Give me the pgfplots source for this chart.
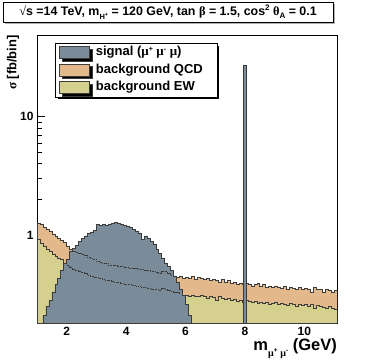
\documentclass[border=0pt]{standalone}
\usepackage{fontspec}
\setmainfont{Liberation Sans}
\newfontfamily\symb{Liberation Serif}
\usepackage{pgfplots}
\usepackage{pgfplotstable}
\pgfplotsset{compat=1.18}
\usetikzlibrary{shadows}
\definecolor{sigcol}{HTML}{7A8C99}
\definecolor{qcdcol}{HTML}{E3B98B}
\definecolor{ewcol}{HTML}{D5D08D}
\definecolor{edge}{HTML}{3C3C3C}

% background histograms, bin width 0.1 (left edges)
\pgfplotstableread{
x qcd ew
1.0 1.26 0.92
1.1 1.22 0.85
1.2 1.15 0.80
1.3 1.12 0.76
1.4 1.08 0.72
1.5 1.02 0.69
1.6 0.98 0.66
1.7 0.93 0.64
1.8 0.90 0.62
1.9 0.86 0.58
2.0 0.80 0.55
2.1 0.76 0.53
2.2 0.73 0.51
2.3 0.71 0.50
2.4 0.70 0.49
2.5 0.68 0.48
2.6 0.67 0.47
2.7 0.65 0.46
2.8 0.63 0.45
2.9 0.62 0.44
3.0 0.60 0.435
3.1 0.59 0.43
3.2 0.58 0.42
3.3 0.57 0.415
3.4 0.555 0.41
3.5 0.555 0.405
3.6 0.55 0.40
3.7 0.545 0.395
3.8 0.54 0.39
3.9 0.535 0.385
4.0 0.53 0.38
4.1 0.52 0.38
4.2 0.525 0.375
4.3 0.52 0.37
4.4 0.515 0.365
4.5 0.51 0.36
4.6 0.50 0.36
4.7 0.50 0.355
4.8 0.49 0.35
4.9 0.49 0.345
5.0 0.48 0.345
5.1 0.475 0.34
5.2 0.49 0.355
5.3 0.49 0.35
5.4 0.47 0.34
5.5 0.46 0.335
5.6 0.45 0.33
5.7 0.44 0.325
5.8 0.45 0.32
5.9 0.43 0.31
6.0 0.44 0.31
6.1 0.43 0.30
6.2 0.45 0.31
6.3 0.42 0.305
6.4 0.44 0.30
6.5 0.43 0.31
6.6 0.42 0.30
6.7 0.43 0.29
6.8 0.41 0.30
6.9 0.42 0.295
7.0 0.41 0.28
7.1 0.40 0.30
7.2 0.42 0.29
7.3 0.40 0.285
7.4 0.41 0.29
7.5 0.39 0.28
7.6 0.40 0.285
7.7 0.38 0.275
7.8 0.39 0.28
7.9 0.38 0.27
8.0 0.39 0.28
8.1 0.385 0.275
8.2 0.37 0.27
8.3 0.38 0.275
8.4 0.39 0.265
8.5 0.37 0.27
8.6 0.38 0.265
8.7 0.36 0.27
8.8 0.37 0.26
8.9 0.36 0.265
9.0 0.37 0.27
9.1 0.36 0.26
9.2 0.355 0.265
9.3 0.365 0.26
9.4 0.35 0.255
9.5 0.36 0.265
9.6 0.355 0.26
9.7 0.35 0.25
9.8 0.36 0.26
9.9 0.345 0.255
10.0 0.355 0.26
10.1 0.35 0.25
10.2 0.33 0.26
10.3 0.36 0.24
10.4 0.345 0.255
10.5 0.35 0.25
10.6 0.33 0.245
10.7 0.35 0.24
10.8 0.34 0.25
10.9 0.33 0.24
11.0 0.34 0.235
11.1 0.34 0.235
}\bkg

% signal (mu+ mu- mu) continuum
\pgfplotstableread{
x s
1.2 0.21
1.3 0.25
1.4 0.28
1.5 0.33
1.6 0.38
1.7 0.43
1.8 0.50
1.9 0.57
2.0 0.62
2.1 0.72
2.2 0.77
2.3 0.82
2.4 0.88
2.5 0.93
2.6 0.98
2.7 1.03
2.8 1.06
2.9 1.10
3.0 1.22
3.1 1.20
3.2 1.23
3.3 1.21
3.4 1.24
3.5 1.26
3.6 1.27
3.7 1.25
3.8 1.24
3.9 1.21
4.0 1.19
4.1 1.16
4.2 1.12
4.3 1.08
4.4 1.04
4.5 0.92
4.6 0.98
4.7 0.93
4.8 0.88
4.9 0.84
5.0 0.76
5.1 0.70
5.2 0.64
5.3 0.58
5.4 0.54
5.5 0.50
5.6 0.45
5.7 0.40
5.8 0.35
5.9 0.31
6.0 0.26
6.1 0.21
6.2 0.21
}\sig

\begin{document}
\begin{tikzpicture}
\useasboundingbox (0pt,0pt) rectangle (374pt,359pt);

% title box
\fill[gray!60] (5pt,335pt) rectangle (335pt,355pt);
\draw[line width=0.8pt, fill=white] (3pt,337pt) rectangle (333pt,357pt);
\node[font=\bfseries\fontsize{12.4}{12.4}\selectfont, inner sep=0pt] at (168pt,347pt)
  {{\symb √}s =14 TeV, m\raisebox{-4pt}{\fontsize{7.5}{7.5}\selectfont H\raisebox{3pt}{\fontsize{5.5}{5.5}\selectfont +}} = 120 GeV, tan {\symb β} = 1.5, cos\raisebox{4.5pt}{\fontsize{8}{8}\selectfont 2} {\symb θ}\raisebox{-3.5pt}{\fontsize{8}{8}\selectfont A} = 0.1};

\begin{axis}[
  at={(37pt,36pt)}, anchor=south west,
  width=300pt, height=288pt, scale only axis,
  xmin=1, xmax=11.1,
  ymode=log, ymin=0.18, ymax=49,
  log origin y=infty,
  xtick={2,4,6,8,10},
  ytick={1,10}, yticklabels={1,10},
  minor x tick num=3,
  tick align=inside,
  xtick pos=left, ytick pos=left,
  major tick length=8pt, minor tick length=4.5pt,
  tick style={line width=0.6pt, color=black},
  axis line style={line width=0.6pt},
  ticklabel style={font=\bfseries\fontsize{12}{12}\selectfont},
  xticklabel style={yshift=-1pt},
  /pgf/number format/assume math mode=true,
  legend image code/.code={\draw[#1] (0pt,-6pt) rectangle (30pt,6pt);},
  legend style={at={(0.06,0.972)}, anchor=north west, draw=black, line width=0.6pt,
    fill=white, font=\bfseries\fontsize{13}{13}\selectfont,
    general shadow={fill=black, shadow xshift=2.5pt, shadow yshift=-2.5pt},
    inner xsep=4pt, inner ysep=1pt, row sep=1pt, column sep=4pt,
    nodes={text height=9.5pt, text depth=3pt, inner sep=2pt}},
  legend cell align=left,
]
\addlegendimage{fill=sigcol, draw=edge, line width=0.6pt}
\addlegendentry{\makebox[115pt][l]{signal ({\symb μ}\raisebox{4pt}{\fontsize{7}{7}\selectfont +} {\symb μ}\raisebox{4pt}{\fontsize{7}{7}\selectfont -} {\symb μ})}}
\addlegendimage{fill=qcdcol, draw=edge, line width=0.6pt}
\addlegendentry{background QCD}
\addlegendimage{fill=ewcol, draw=edge, line width=0.6pt}
\addlegendentry{background EW}

\addplot[forget plot, const plot, fill=qcdcol, draw=edge, line width=0.6pt]
  table[x=x, y=qcd]{\bkg} \closedcycle;
\addplot[forget plot, const plot, fill=ewcol, draw=edge, line width=0.6pt]
  table[x=x, y=ew]{\bkg} \closedcycle;
\addplot[forget plot, const plot, fill=sigcol, draw=edge, line width=0.6pt]
  table[x=x, y=s]{\sig} \closedcycle;
% narrow resonance at 8 GeV
\addplot[forget plot, const plot, fill=sigcol, draw=edge, line width=0.6pt]
  coordinates {(7.95,27) (8.05,27)} \closedcycle;
% background outlines hidden under the signal
\addplot[forget plot, const plot, draw=edge, densely dotted, line width=0.6pt,
  restrict x to domain=2.05:5.75]
  table[x=x, y=qcd]{\bkg};
\addplot[forget plot, const plot, draw=edge, densely dotted, line width=0.6pt,
  restrict x to domain=2.0:5.85]
  table[x=x, y=ew]{\bkg};
\end{axis}

\node[rotate=90, anchor=east, font=\bfseries\fontsize{13}{13}\selectfont, inner sep=0pt]
  at (13pt,324pt) {{\symb σ} [fb/bin]};
\node[anchor=base east, font=\bfseries\fontsize{16.5}{16.5}\selectfont, inner sep=0pt]
  at (337pt,8.5pt) {m\raisebox{-5.5pt}{\fontsize{10}{10}\selectfont{\symb μ}\raisebox{4pt}{\fontsize{6.5}{6.5}\selectfont +} {\symb μ}\raisebox{4pt}{\fontsize{6.5}{6.5}\selectfont -}} (GeV)};
\end{tikzpicture}
\end{document}
